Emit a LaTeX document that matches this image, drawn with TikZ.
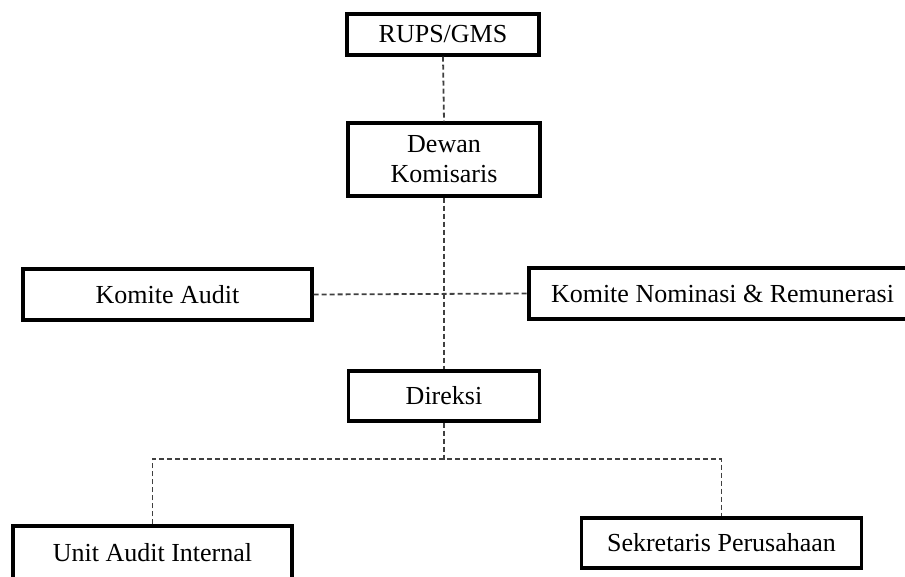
\documentclass[tikz,border=0pt]{standalone}
\usepackage{fontspec}
\setmainfont{Liberation Serif}
\begin{document}
\begin{tikzpicture}[x=1pt,y=-1pt,
  orgbox/.style={draw=black, line width=3.2pt, fill=white, inner sep=0pt,
    align=center, font=\fontsize{26}{30}\selectfont},
  link/.style={draw=black!75, line width=1.8pt, dash pattern=on 5pt off 3pt}]
\useasboundingbox (0,0) rectangle (905,576);

\coordinate (fork) at (444,459);

% boxes
\node[orgbox, minimum width=192pt, minimum height=41pt] (rups) at (443,34.5) {RUPS/GMS};
\node[orgbox, minimum width=192pt, minimum height=73pt] (dewan) at (444,159.5) {Dewan\\Komisaris};
\node[orgbox, minimum width=289pt, minimum height=51pt] (audit) at (167.5,294.5) {Komite Audit};
\node[orgbox, minimum width=387pt, minimum height=51pt] (nomrem) at (722.5,293.5) {Komite Nominasi \& Remunerasi};
\node[orgbox, minimum width=191pt, minimum height=50pt] (direksi) at (444,396) {Direksi};
\node[orgbox, minimum width=279pt, minimum height=54pt, text depth=0pt] (uai) at (152.5,553) {\raisebox{2pt}{Unit Audit Internal}};
\node[orgbox, minimum width=280pt, minimum height=50pt] (sek) at (721.5,543) {Sekretaris Perusahaan};

% connectors
\draw[link] (rups.south) -- (dewan.north);
\draw[link] (dewan.south) -- (direksi.north);
\draw[link] (audit.east) -- (nomrem.west);
\draw[link] (direksi.south) -- (fork);
\draw[link] (uai.north) |- (fork) -| (sek.north);
\end{tikzpicture}
\end{document}
